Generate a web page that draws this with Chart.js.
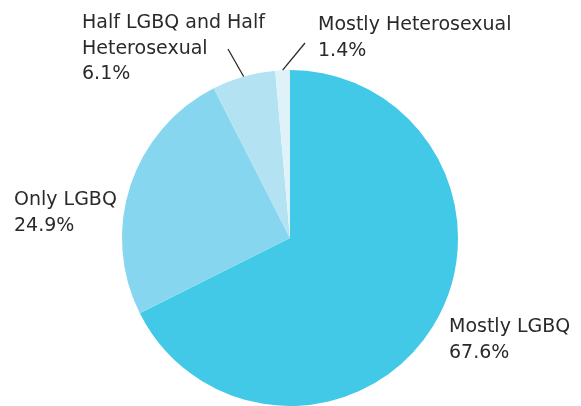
<!DOCTYPE html>
<html>
<head>
<meta charset="utf-8">
<script src="https://cdn.jsdelivr.net/npm/chart.js@4/dist/chart.umd.min.js"></script>
<style>
html,body{margin:0;padding:0;background:#fff;}
#wrap{position:relative;width:581px;height:406px;}
</style>
</head>
<body>
<div id="wrap"><canvas id="c" width="581" height="406"></canvas></div>
<script>
const categories = ["Mostly LGBQ", "Only LGBQ", "Half LGBQ and Half Heterosexual", "Mostly Heterosexual"];
const labelLines = [["Mostly LGBQ"], ["Only LGBQ"], ["Half LGBQ and Half", "Heterosexual"], ["Mostly Heterosexual"]];
const values = [67.6, 24.9, 6.1, 1.4];
const colors = ["#41c9e7", "#87d6ef", "#b3e3f3", "#dff2f9"];

// label anchor (left x, first baseline y) and optional leader-line outer end
const labelPos = [
  {x: 449, y: 332},
  {x: 14, y: 205},
  {x: 82, y: 28, lx: 228, ly: 49},
  {x: 318, y: 30, lx: 305, ly: 43}
];

const labelPlugin = {
  id: 'pieLabels',
  afterDraw(chart) {
    const ctx = chart.ctx;
    const meta = chart.getDatasetMeta(0);
    ctx.save();
    ctx.font = '19px "DejaVu Sans"';
    ctx.fillStyle = '#2a2a2a';
    ctx.textBaseline = 'alphabetic';
    ctx.textAlign = 'left';
    meta.data.forEach((arc, i) => {
      const p = labelPos[i];
      const lines = labelLines[i].concat([values[i].toFixed(1) + '%']);
      lines.forEach((t, k) => ctx.fillText(t, p.x, p.y + k * 25.5));
      if (p.lx !== undefined) {
        const mid = (arc.startAngle + arc.endAngle) / 2;
        const r = arc.outerRadius;
        const ix = arc.x + Math.cos(mid) * r;
        const iy = arc.y + Math.sin(mid) * r;
        ctx.strokeStyle = '#2a2a2a';
        ctx.lineWidth = 1.3;
        ctx.beginPath();
        ctx.moveTo(p.lx, p.ly);
        ctx.lineTo(ix, iy);
        ctx.stroke();
      }
    });
    ctx.restore();
  }
};

new Chart(document.getElementById('c'), {
  type: 'pie',
  data: {
    labels: categories,
    datasets: [{
      data: values,
      backgroundColor: colors,
      borderWidth: 0
    }]
  },
  options: {
    responsive: false,
    animation: false,
    layout: {padding: {left: 122, right: 123, top: 70, bottom: 0}},
    plugins: {legend: {display: false}, tooltip: {enabled: false}}
  },
  plugins: [labelPlugin]
});
</script>
</body>
</html>
